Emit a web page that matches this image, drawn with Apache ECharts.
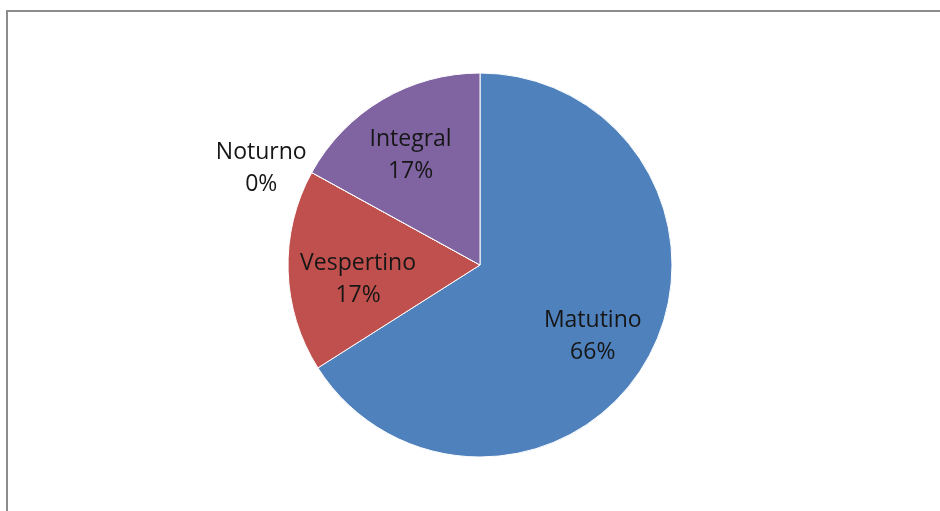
<!DOCTYPE html>
<html>
<head>
<meta charset="utf-8">
<script src="https://cdn.jsdelivr.net/npm/echarts@6/dist/echarts.min.js"></script>
<style>
  html, body { margin: 0; padding: 0; background: #fff; }
  #chart { width: 940px; height: 511px; }
</style>
</head>
<body>
<div id="chart"></div>
<script>
// turnos, na ordem em que aparecem a partir do topo (sentido horário)
const turnos = ['Matutino', 'Vespertino', 'Noturno', 'Integral']
const percentuais = [66, 17, 0, 17]
const cores = ['#4f81bd', '#c0504d', '#9bbb59', '#8064a2']

// deslocamento dos rótulos em relação ao centro do setor
const labelShift = [[26, 24], [-23, 11], [-132, -49], [-19, -24]]

const chart = echarts.init(document.getElementById('chart'))

const option = {
  backgroundColor: '#fff',
  animation: false,
  graphic: [{
    type: 'rect',
    shape: { x: 7, y: 11, width: 1000, height: 600 },
    style: { fill: 'none', stroke: '#8c8c8c', lineWidth: 2 }
  }],
  series: [{
    type: 'pie',
    center: [480, 265],
    radius: 192,
    startAngle: 90,
    clockwise: true,
    avoidLabelOverlap: false,
    itemStyle: { borderColor: '#fff', borderWidth: 1 },
    label: {
      show: true,
      position: 'inside',
      formatter: p => p.name + '\n' + p.value + '%',
      fontFamily: 'Open Sans',
      fontSize: 23,
      lineHeight: 32,
      color: '#161616',
      align: 'center'
    },
    labelLine: { show: false },
    labelLayout: params => ({
      dx: labelShift[params.dataIndex][0],
      dy: labelShift[params.dataIndex][1]
    }),
    emphasis: { disabled: true },
    data: turnos.map((t, i) => ({
      name: t,
      value: percentuais[i],
      itemStyle: { color: cores[i] }
    }))
  }]
}

chart.setOption(option)
</script>
</body>
</html>
